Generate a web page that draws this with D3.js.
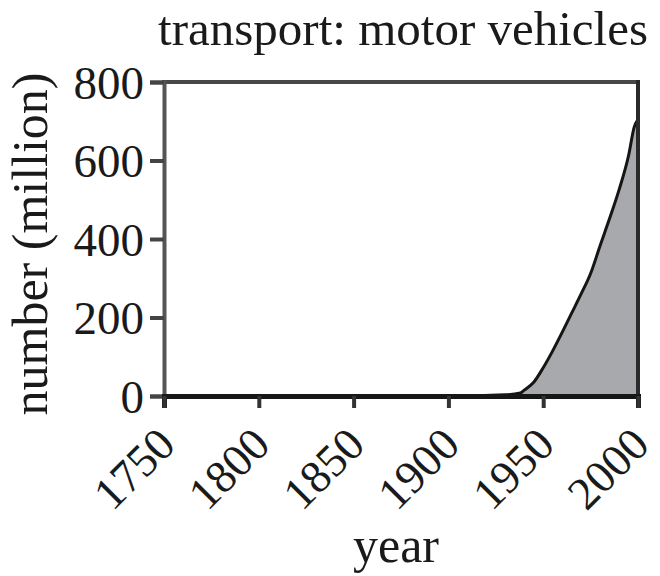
<!DOCTYPE html>
<html>
<head>
<meta charset="utf-8">
<script src="https://cdn.jsdelivr.net/npm/d3@7"></script>
<style>
  html, body { margin: 0; padding: 0; background: #fff; }
  svg { display: block; }
  text { font-family: "Liberation Serif", "DejaVu Serif", serif; fill: #1a1a1a; }
</style>
</head>
<body>
<svg id="chart" width="660" height="576"></svg>
<script>
const title = "transport: motor vehicles";
const xLabel = "year";
const yLabel = "number (million)";
const years = [1750, 1800, 1850, 1900, 1930, 1938, 1940, 1945, 1950, 1955, 1960, 1965, 1970, 1975, 1980, 1985, 1990, 1995, 1998, 2000];
const vehicles = [0, 0, 0, 0, 3, 8, 15, 35, 72, 115, 162, 211, 260, 312, 383, 452, 525, 612, 685, 705];
const xTicks = [1750, 1800, 1850, 1900, 1950, 2000];
const yTicks = [0, 200, 400, 600, 800];

const svg = d3.select("#chart");
const data = years.map((d, i) => ({ year: d, value: vehicles[i] }));

const x = d3.scaleLinear().domain([1750, 2000]).range([164, 638]);
const y = d3.scaleLinear().domain([0, 800]).range([396, 82]);

// area fill
svg.append("path")
  .datum(data)
  .attr("fill", "#a8a9ac")
  .attr("d", d3.area().x(d => x(d.year)).y0(y(0)).y1(d => y(d.value)).curve(d3.curveMonotoneX));

// frame: top
svg.append("line").attr("x1", x(1750) - 2).attr("x2", x(2000) + 2).attr("y1", y(800)).attr("y2", y(800))
  .attr("stroke", "#474747").attr("stroke-width", 4);

// line
svg.append("path")
  .datum(data)
  .attr("fill", "none")
  .attr("stroke", "#151515")
  .attr("stroke-width", 3)
  .attr("d", d3.line().x(d => x(d.year)).y(d => y(d.value)).curve(d3.curveMonotoneX));

// frame: right
svg.append("line").attr("x1", x(2000)).attr("x2", x(2000)).attr("y1", y(800) - 2).attr("y2", y(0) + 2)
  .attr("stroke", "#2a2a2a").attr("stroke-width", 4);

// y axis
const yAxis = d3.axisLeft(y).tickValues(yTicks).tickSize(14).tickPadding(6).tickFormat(d3.format("d"));
const gy = svg.append("g").attr("transform", `translate(${x(1750)},0)`).call(yAxis);
gy.select(".domain").attr("stroke", "#555").attr("stroke-width", 4);
gy.selectAll(".tick line").attr("stroke", "#444").attr("stroke-width", 4);
gy.selectAll(".tick text").attr("font-size", 47).attr("fill", "#1a1a1a")
  .attr("font-family", "Liberation Serif, serif").attr("x", -20).attr("dy", "0.35em");

// x axis
const xAxis = d3.axisBottom(x).tickValues(xTicks).tickSize(12).tickFormat(d3.format("d"));
const gx = svg.append("g").attr("transform", `translate(0,${y(0)})`).call(xAxis);
gx.select(".domain").attr("stroke", "#161616").attr("stroke-width", 5);
gx.selectAll(".tick line").attr("stroke", "#333").attr("stroke-width", 4);
gx.selectAll(".tick text").attr("font-size", 46).attr("fill", "#1a1a1a")
  .attr("font-family", "Liberation Serif, serif")
  .attr("text-anchor", "end").attr("dy", null).attr("y", null)
  .attr("transform", "translate(13,51) rotate(-45)");

// labels
svg.append("text").attr("x", 648).attr("y", 45).attr("text-anchor", "end")
  .attr("font-size", 49).text(title);
svg.append("text").attr("x", 396).attr("y", 562).attr("text-anchor", "middle")
  .attr("font-size", 50).text(xLabel);
svg.append("text").attr("transform", "translate(47,244) rotate(-90)").attr("text-anchor", "middle")
  .attr("font-size", 50).text(yLabel);
</script>
</body>
</html>
